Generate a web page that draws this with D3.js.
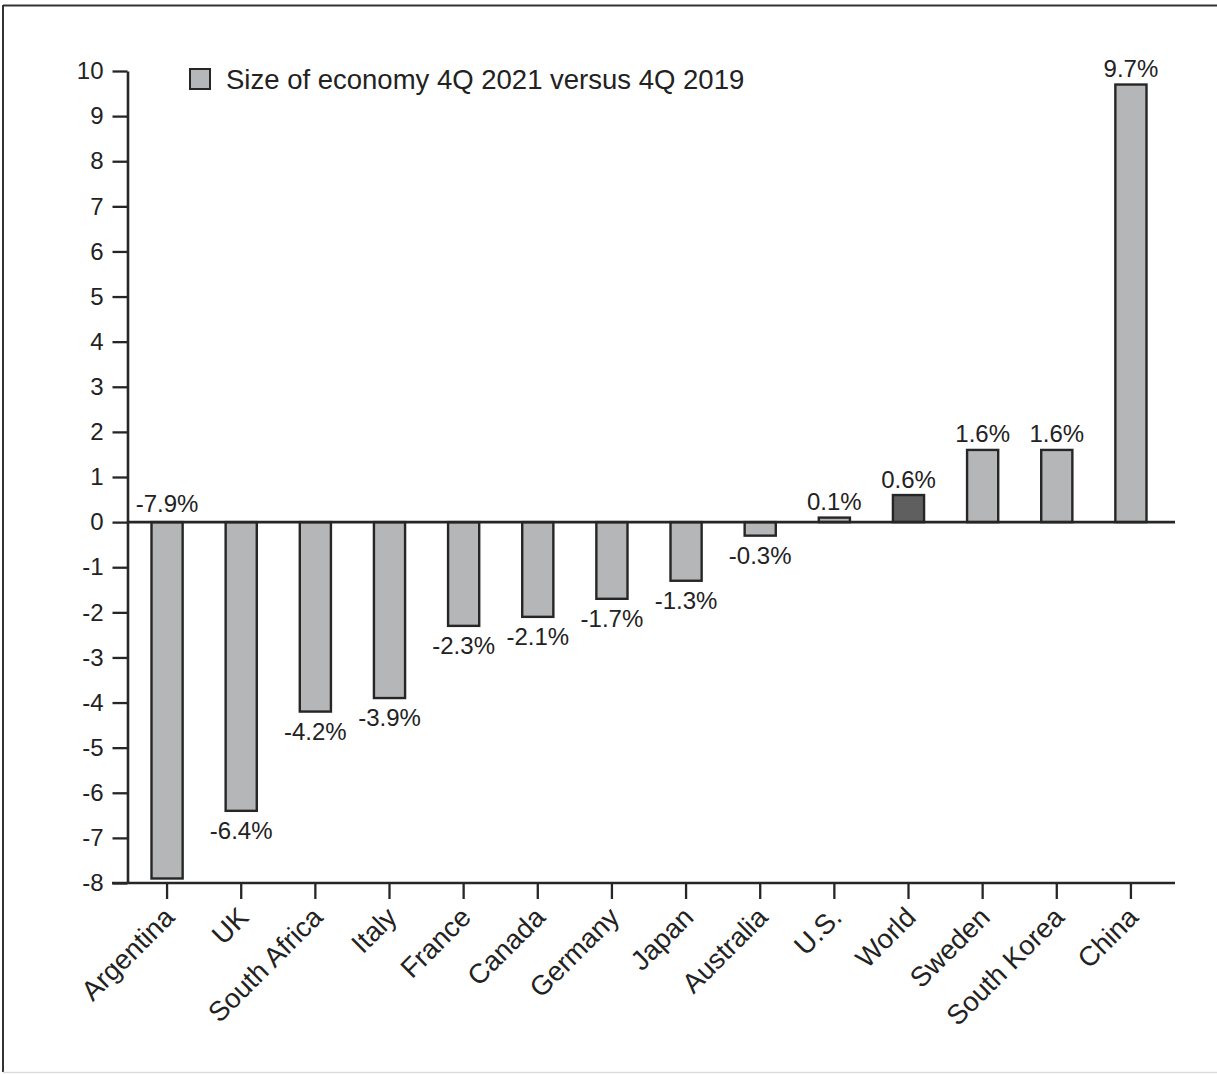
<!DOCTYPE html>
<html>
<head>
<meta charset="utf-8">
<script src="https://cdn.jsdelivr.net/npm/d3@7"></script>
<style>
  html, body { margin: 0; padding: 0; background: #fff; }
  svg { display: block; }
  text { font-family: "Liberation Sans", Arial, Helvetica, sans-serif; fill: #222; }
</style>
</head>
<body>
<svg id="chart" width="1217" height="1074"></svg>
<script>
// Economy size change, 4Q 2021 vs 4Q 2019 (percent)
const countries = ["Argentina", "UK", "South Africa", "Italy", "France", "Canada", "Germany",
                   "Japan", "Australia", "U.S.", "World", "Sweden", "South Korea", "China"];
const values = [-7.9, -6.4, -4.2, -3.9, -2.3, -2.1, -1.7, -1.3, -0.3, 0.1, 0.6, 1.6, 1.6, 9.7];
const highlighted = ["World"];
const yTicks = [-8, -7, -6, -5, -4, -3, -2, -1, 0, 1, 2, 3, 4, 5, 6, 7, 8, 9, 10];
const legendLabel = "Size of economy 4Q 2021 versus 4Q 2019";

const data = countries.map((c, i) => ({ name: c, value: values[i] }));

const svg = d3.select("#chart");
const ink = "#262626";
const barFill = "#b5b6b7";
const barHighlight = "#5f5f5f";
const numberSize = 24;
const wordSize = 27.5;

// frame
svg.append("line").attr("x1", 3).attr("x2", 1217).attr("y1", 5.5).attr("y2", 5.5)
  .attr("stroke", "#333").attr("stroke-width", 2);
svg.append("line").attr("x1", 3).attr("x2", 3).attr("y1", 5).attr("y2", 1072)
  .attr("stroke", "#333").attr("stroke-width", 2);
svg.append("line").attr("x1", 3).attr("x2", 1217).attr("y1", 1072.5).attr("y2", 1072.5)
  .attr("stroke", "#ddd").attr("stroke-width", 1.5);

const axisX = 127.5, axisBottom = 883, axisRight = 1175;

const y = d3.scaleLinear().domain([-8, 10]).range([883, 71]);
const x = d3.scaleBand().domain(countries).range([130, 1168])
  .paddingInner(0.58).paddingOuter(0.29);

// bars
svg.append("g").selectAll("rect").data(data).join("rect")
  .attr("x", d => x(d.name))
  .attr("width", x.bandwidth())
  .attr("y", d => y(Math.max(0, d.value)))
  .attr("height", d => Math.abs(y(d.value) - y(0)))
  .attr("fill", d => highlighted.includes(d.name) ? barHighlight : barFill)
  .attr("stroke", ink).attr("stroke-width", 2.4);

// y axis (plain hyphen for negatives)
const yAxis = svg.append("g").attr("transform", `translate(${axisX},0)`)
  .call(d3.axisLeft(y).tickValues(yTicks).tickFormat(d => String(d))
    .tickSize(15).tickSizeOuter(0).tickPadding(9));
yAxis.select(".domain").attr("stroke", ink).attr("stroke-width", 2.6);
yAxis.selectAll(".tick line").attr("stroke", ink).attr("stroke-width", 2.3);
yAxis.selectAll(".tick text").attr("font-size", numberSize).attr("fill", "#222")
  .attr("font-family", "Liberation Sans, Arial, sans-serif");

// bottom axis line and ticks
svg.append("line").attr("x1", 112).attr("x2", axisRight)
  .attr("y1", axisBottom).attr("y2", axisBottom)
  .attr("stroke", ink).attr("stroke-width", 2.6);
const xTicks = svg.append("g").selectAll("g").data(countries).join("g")
  .attr("transform", d => `translate(${x(d) + x.bandwidth() / 2},${axisBottom})`);
xTicks.append("line").attr("y1", 0).attr("y2", 16)
  .attr("stroke", ink).attr("stroke-width", 2.3);
xTicks.append("text")
  .attr("transform", "translate(9,36) rotate(-45)")
  .attr("text-anchor", "end")
  .attr("font-size", wordSize)
  .text(d => d);

// zero line
svg.append("line").attr("x1", axisX).attr("x2", axisRight)
  .attr("y1", y(0)).attr("y2", y(0))
  .attr("stroke", ink).attr("stroke-width", 2.6);

// value labels
const fmt = v => `${v.toFixed(1)}%`;
svg.append("g").selectAll("text").data(data).join("text")
  .attr("x", d => x(d.name) + x.bandwidth() / 2)
  .attr("y", d => {
    if (d.value >= 0) return y(d.value) - 7.5;
    // the deepest bar runs to the floor, so its label sits above the zero line
    if (y(d.value) + 30 > axisBottom) return y(0) - 10;
    return y(d.value) + 28;
  })
  .attr("text-anchor", "middle")
  .attr("font-size", numberSize)
  .text(d => fmt(d.value));

// legend
const legend = svg.append("g").attr("transform", "translate(190,69)");
legend.append("rect").attr("width", 20).attr("height", 20)
  .attr("fill", barFill).attr("stroke", ink).attr("stroke-width", 2);
legend.append("text").attr("x", 36).attr("y", 19.5).attr("font-size", wordSize)
  .text(legendLabel);
</script>
</body>
</html>
